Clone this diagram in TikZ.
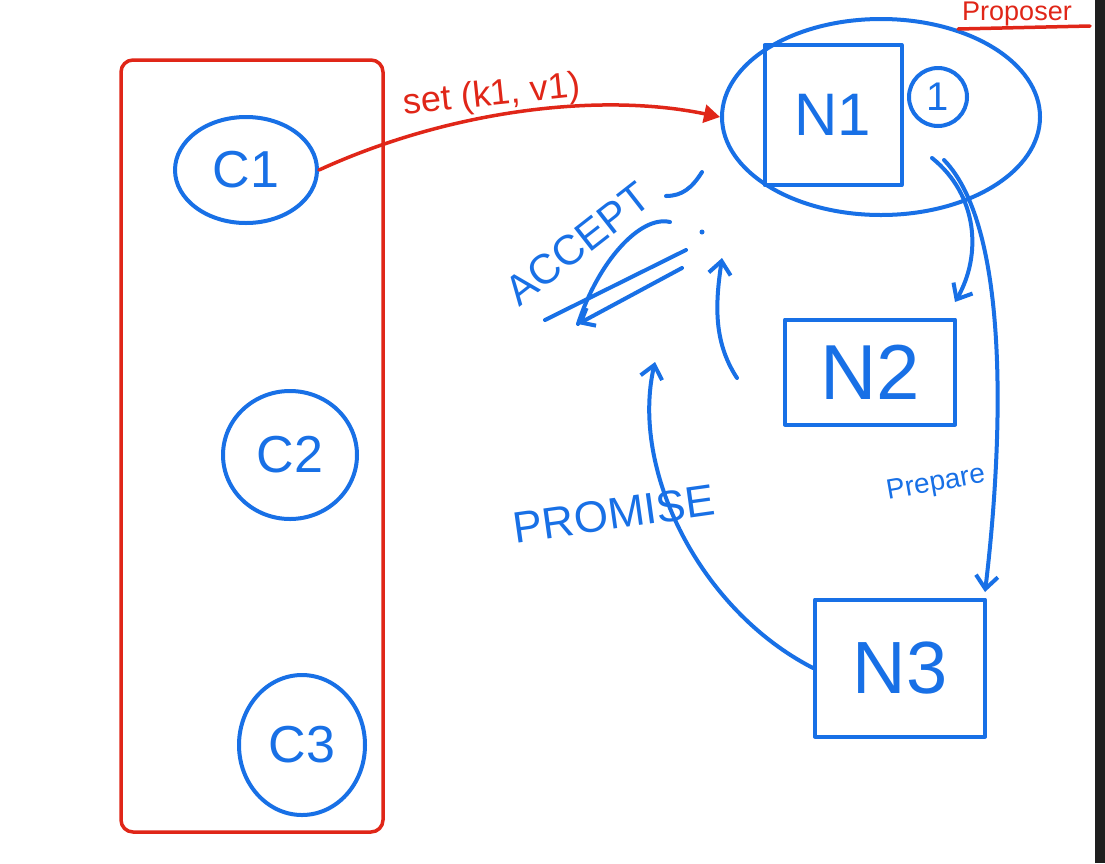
\documentclass[tikz,border=0pt]{standalone}
\usepackage{fontspec}
\setmainfont{Liberation Sans}
\usetikzlibrary{positioning,shapes.geometric,arrows.meta}
\definecolor{penblue}{RGB}{24,112,230}
\definecolor{penred}{RGB}{224,38,24}
\tikzset{
  blueline/.style={draw=penblue,line width=4pt,line cap=round,line join=round},
  redline/.style={draw=penred,line width=3.5pt,line cap=round,line join=round},
  bluearrow/.style={blueline,-{Straight Barb[length=13pt,width=22pt,line width=4pt]}},
  redarrow/.style={redline,-{Triangle[length=16pt,width=18pt]}},
  client/.style={ellipse,blueline,inner sep=0pt,text=penblue},
  nodebox/.style={rectangle,blueline,inner sep=0pt,text=penblue},
  bluetext/.style={text=penblue,inner sep=0pt},
  redtext/.style={text=penred,inner sep=0pt},
}
\begin{document}
\begin{tikzpicture}[x=1pt,y=-1pt]
\useasboundingbox (0,0) rectangle (1105,863);
\fill[white] (0,0) rectangle (1105,863);
\fill[black!88] (1095,0) rectangle (1105,863);
% clients
\node[redline,rounded corners=12pt,minimum width=262pt,minimum height=772pt,inner sep=0pt] (clients) at (252,446) {};
\node[client,minimum width=142pt,minimum height=106pt,font=\fontsize{52}{56}\selectfont] (c1) at (246,170) {C1};
\node[client,minimum width=134pt,minimum height=128pt,font=\fontsize{52}{56}\selectfont] (c2) at (290,455) {C2};
\node[client,minimum width=126pt,minimum height=140pt,font=\fontsize{52}{56}\selectfont] (c3) at (302,745) {C3};
% nodes
\node[ellipse,blueline,minimum width=318pt,minimum height=196pt] (grp) at (881,117) {};
\node[nodebox,minimum width=137pt,minimum height=140pt,font=\fontsize{60}{64}\selectfont] (n1) at (833,115) {N1};
\node[circle,blueline,minimum size=58pt,inner sep=0pt,text=penblue,font=\fontsize{40}{44}\selectfont] (one) at (938,97) {1};
\node[nodebox,minimum width=170pt,minimum height=105pt,font=\fontsize{78}{82}\selectfont] (n2) at (870,372) {N2};
\node[nodebox,minimum width=170pt,minimum height=137pt,font=\fontsize{74}{78}\selectfont] (n3) at (900,668) {N3};
\node[redtext,font=\fontsize{27}{30}\selectfont,anchor=base west] (prop) at (962,20) {Proposer};
\draw[redline] (958,29) -- (1090,26);
% set request
\draw[redarrow] (c1.east) .. controls (450,110) and (600,92) .. (grp.west);
\node[redtext,font=\fontsize{36}{40}\selectfont,rotate=6] (setlbl) at (492,96) {set (k1, v1)};
% prepare
\coordinate (p1) at (932,158);
\coordinate (p2) at (944,160);
\draw[bluearrow] (p1) .. controls (978,195) and (982,255) .. (955,302);
\draw[bluearrow] (p2) .. controls (1012,230) and (1002,450) .. (985,592);
\node[bluetext,font=\fontsize{28}{32}\selectfont,rotate=10] (prep) at (936,484) {Prepare};
% promise
\draw[bluearrow] (n3.west) .. controls (700,610) and (630,470) .. (655,362);
\node[bluetext,font=\fontsize{44}{48}\selectfont,rotate=8] (prom) at (614,514) {PROMISE};
\coordinate (up2) at (737,378);
\draw[bluearrow] (up2) .. controls (712,340) and (716,300) .. (722,258);
% accept
\node[bluetext,font=\fontsize{42}{46}\selectfont,rotate=38] (acc) at (578,244) {ACCEPT};
\coordinate (hit) at (578,324);
\draw[blueline] (545,320) -- (686,250);
\draw[blueline,{Straight Barb[length=12pt,width=20pt,line width=4pt]}-] (hit) -- (682,268);
\draw[blueline] (hit) .. controls (598,262) and (640,215) .. (670,222);
\draw[blueline] (702,172) .. controls (692,188) and (682,196) .. (666,196);
\fill[penblue] (702,232) circle (2.5pt);
\end{tikzpicture}
\end{document}
